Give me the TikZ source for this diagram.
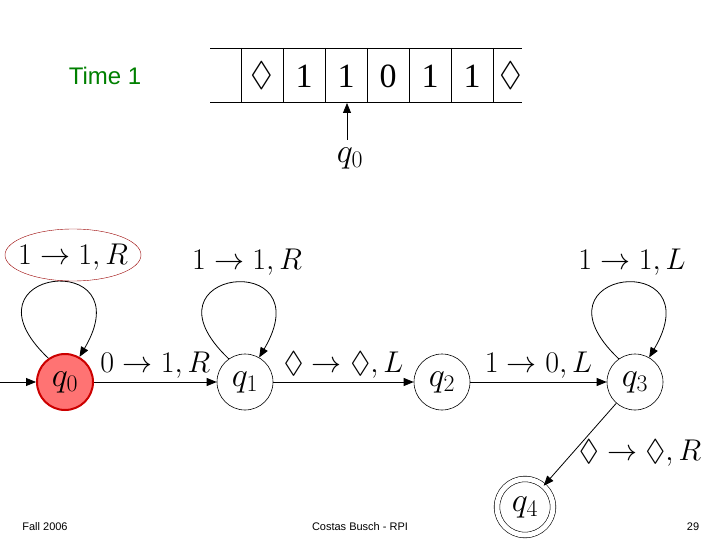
\documentclass[tikz,border=0pt]{standalone}
\usepackage{fix-cm}
\usepackage{amssymb}
\usepackage{fontspec}
\setsansfont{Liberation Sans}
\setmainfont{Liberation Serif}
\usetikzlibrary{arrows.meta}
\begin{document}
\begin{tikzpicture}[x=1pt,y=-1pt,
 st/.style={circle,draw,semithick,minimum size=56pt,inner sep=0pt,font=\fontsize{34}{36}\selectfont},
 lb/.style={font=\fontsize{30}{32}\selectfont,inner sep=0pt},
 tape/.style={font=\fontsize{34}{36}\selectfont,inner sep=0pt},
 ed/.style={thick,-{Triangle[length=10pt,width=8pt]}},
 ft/.style={font=\sffamily\fontsize{11}{13}\selectfont}]
\useasboundingbox (0,0) rectangle (720,540);
\node[font=\sffamily\fontsize{24}{28}\selectfont,text=green!50!black] (time) at (105,76) {Time 1};
% tape
\draw (210,48) -- (522,48) (210,102) -- (522,102);
\foreach \x in {241,283,325,367,409,451,493} \draw (\x,48) -- (\x,102);
\foreach \x/\s in {262/$\Diamond$,304/1,346/1,388/0,430/1,472/1,511/$\Diamond$}
  \node[tape] at (\x,76) {\s};
\node[st,draw=none,minimum size=0pt] (head) at (350,158) {$q_0$};
\coordinate (tp) at (347,103);
\draw[ed] (347,140) -- (tp);
% states
\node[st,fill=red!55,draw=red!80!black,line width=2pt] (q0) at (65,382) {$q_0$};
\node[st] (q1) at (245,382) {$q_1$};
\node[st] (q2) at (442,382) {$q_2$};
\node[st] (q3) at (635,382) {$q_3$};
\node[st,double,double distance=5pt] (q4) at (525,507) {$q_4$};
\coordinate (st0) at (0,382);
\draw[ed] (st0) -- (q0);
\draw[ed] (q0) -- (q1) node[lb,midway,above=3pt] {$0\rightarrow 1,R$};
\draw[ed] (q1) -- (q2) node[lb,midway,above=3pt] {$\Diamond\rightarrow\Diamond,L$};
\draw[ed] (q2) -- (q3) node[lb,midway,above=3pt] {$1\rightarrow 0,L$};
\draw[ed] (q3) -- (q4);
\node[lb] (l34) at (640,453) {$\Diamond\rightarrow\Diamond,R$};
\foreach \q in {q0,q1,q3}
  \draw[ed] (\q.125) .. controls +(-95,-90) and +(65,-110) .. (\q.60);
\node[lb] (l0) at (73,257) {$1\rightarrow 1,R$};
\draw[red!60!black] (73,255) ellipse (68 and 26);
\node[lb] (l1) at (247,262) {$1\rightarrow 1,R$};
\node[lb] (l3) at (632,262) {$1\rightarrow 1,L$};
% footer
\node[ft] (f1) at (45,527) {Fall 2006};
\node[ft] (f2) at (360,527) {Costas Busch - RPI};
\node[ft] (f3) at (693,527) {29};
\end{tikzpicture}
\end{document}
